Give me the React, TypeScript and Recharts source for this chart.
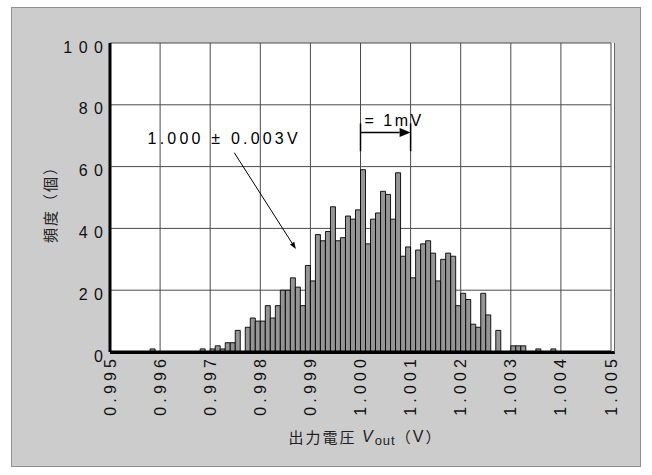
import React from "react";
import {
  BarChart,
  Bar,
  XAxis,
  YAxis,
  CartesianGrid,
  ReferenceLine,
  ReferenceDot,
} from "recharts";

// histogram of output voltage, 0.1 mV bins from 0.995 V to 1.005 V
const BIN_START = 0.995;
const BIN_STEP = 0.0001;
const counts = [
  0, 0, 0, 0, 0, 0, 0, 0, 1, 0, // 0.9950
  0, 0, 0, 0, 0, 0, 0, 0, 1, 0, // 0.9960
  1, 2, 1, 3, 3, 7, 0, 8, 11, 10, // 0.9970
  10, 15, 11, 15, 20, 20, 24, 21, 15, 28, // 0.9980
  23, 38, 36, 39, 47, 36, 37, 44, 43, 46, // 0.9990
  59, 35, 43, 45, 52, 51, 43, 58, 31, 34, // 1.0000
  24, 33, 35, 36, 32, 23, 30, 32, 31, 15, // 1.0010
  19, 17, 9, 8, 19, 12, 0, 7, 0, 0, // 1.0020
  2, 2, 2, 0, 0, 1, 0, 0, 1, 0, // 1.0030
  0, 0, 0, 0, 0, 0, 0, 0, 0, 0, // 1.0040
];
const xTicks = [0.995, 0.996, 0.997, 0.998, 0.999, 1.0, 1.001, 1.002, 1.003, 1.004, 1.005];
const yTicks = [0, 20, 40, 60, 80, 100];

// annotations (data coordinates)
const spreadText = "1.000 ± 0.003V";
const spreadTextAt = { x: 0.99728, y: 69 };
const spreadArrow = [
  { x: 0.99748, y: 64.5 },
  { x: 0.99871, y: 33.3 },
];
const scaleText = "= 1mV";
const scaleTextAt = { x: 1.00008, y: 75 };
const scaleFrom = 1.0;
const scaleTo = 1.001;
const scaleY = 71;

const data = counts.map((count, i) => ({
  v: BIN_START + (i + 0.5) * BIN_STEP,
  count,
}));

const FONT = "'Liberation Sans', Arial, sans-serif";
const CJK = "'Noto Sans CJK JP', 'Noto Sans', sans-serif";

const arrowShape = (head: number, half: number, width: number) => (p: any) => {
  const { x1, y1, x2, y2 } = p;
  const a = Math.atan2(y2 - y1, x2 - x1);
  const bx = x2 - head * Math.cos(a);
  const by = y2 - head * Math.sin(a);
  const nx = -Math.sin(a) * half;
  const ny = Math.cos(a) * half;
  return (
    <g>
      <line x1={x1} y1={y1} x2={bx} y2={by} stroke="#000" strokeWidth={width} />
      <polygon
        points={`${x2},${y2} ${bx + nx},${by + ny} ${bx - nx},${by - ny}`}
        fill="#000"
      />
    </g>
  );
};

function XTick({ x, y, payload }: any) {
  const ls = 4.2;
  return (
    <g transform={`translate(${x},${y}) rotate(-90)`}>
      <text
        x={ls}
        y={0}
        textAnchor="end"
        dominantBaseline="central"
        fontFamily={FONT}
        fontSize={16}
        letterSpacing={ls}
        fill="#111"
      >
        {Number(payload.value).toFixed(3)}
      </text>
    </g>
  );
}

function YTick({ x, y, payload }: any) {
  const ls = 6.5;
  return (
    <text
      x={x + ls}
      y={y + 4}
      textAnchor="end"
      dominantBaseline="central"
      fontFamily={FONT}
      fontSize={16}
      letterSpacing={ls}
      fill="#111"
    >
      {payload.value}
    </text>
  );
}

function YTitle({ viewBox }: any) {
  const cx = viewBox.x + 9;
  const cy = viewBox.y + viewBox.height / 2 + 3;
  return (
    <text
      transform={`translate(${cx},${cy}) rotate(-90)`}
      textAnchor="middle"
      dominantBaseline="central"
      fontFamily={CJK}
      fontSize={15}
      letterSpacing={2}
      fill="#222"
    >
      頻度（個）
    </text>
  );
}

function XTitle({ viewBox }: any) {
  const cx = viewBox.x + viewBox.width / 2 + 5;
  const cy = viewBox.y + 84;
  return (
    <text
      x={cx}
      y={cy}
      textAnchor="middle"
      dominantBaseline="central"
      fontFamily={CJK}
      fontSize={15}
      letterSpacing={2}
      fill="#222"
    >
      出力電圧{" "}
      <tspan fontFamily={FONT} fontStyle="italic" fontSize={16}>
        V
      </tspan>
      <tspan fontFamily={FONT} fontSize={13} dy={4} letterSpacing={1}>
        out
      </tspan>
      <tspan dy={-4}>（</tspan>
      <tspan fontFamily={FONT} fontSize={16}>
        V
      </tspan>
      <tspan>）</tspan>
    </text>
  );
}

export default function App() {
  return (
    <div
      style={{
        position: "absolute",
        left: 0,
        top: 0,
        width: 652,
        height: 475,
        background: "#fff",
      }}
    >
      <div
        style={{
          position: "absolute",
          left: 11,
          top: 7,
          width: 630,
          height: 460,
          boxSizing: "border-box",
          background: "#cccccc",
          border: "1px solid #909090",
        }}
      />
      <div
        style={{
          position: "absolute",
          left: 110,
          top: 43,
          width: 505,
          height: 310.5,
          boxSizing: "border-box",
          background: "#fff",
          borderRight: "1px solid #666",
          borderBottom: "3px solid #000",
        }}
      />
      <div style={{ position: "absolute", left: 0, top: 0 }}>
        <BarChart
          width={652}
          height={475}
          data={data}
          margin={{ top: 43, right: 41, bottom: 53, left: 40 }}
          barCategoryGap={0}
          barGap={0}
        >
          <CartesianGrid stroke="#4a4a4a" strokeWidth={1} />
          <XAxis
            dataKey="v"
            type="number"
            domain={[0.995, 1.005]}
            allowDataOverflow
            ticks={xTicks}
            interval={0}
            height={70}
            tickSize={0}
            tickMargin={7}
            tickLine={false}
            axisLine={{ stroke: "#000", strokeWidth: 3 }}
            tick={<XTick />}
            label={(p: any) => <XTitle {...p} />}
          />
          <YAxis
            domain={[0, 100]}
            ticks={yTicks}
            interval={0}
            width={70}
            tickSize={0}
            tickMargin={7}
            tickLine={false}
            axisLine={{ stroke: "#000", strokeWidth: 3 }}
            tick={<YTick />}
            label={(p: any) => <YTitle {...p} />}
          />
          <Bar
            dataKey="count"
            fill="#959595"
            stroke="#000"
            strokeWidth={0.9}
            isAnimationActive={false}
          />
          <ReferenceLine
            segment={spreadArrow}
            shape={arrowShape(7, 2.5, 1)}
          />
          <ReferenceLine
            segment={[
              { x: scaleFrom, y: scaleY },
              { x: scaleTo, y: scaleY },
            ]}
            shape={arrowShape(11, 4.5, 1.5)}
          />
          <ReferenceLine
            segment={[
              { x: scaleFrom, y: scaleY - 6 },
              { x: scaleFrom, y: scaleY + 3 },
            ]}
            stroke="#000"
            strokeWidth={1.5}
          />
          <ReferenceLine
            segment={[
              { x: scaleTo, y: scaleY - 6 },
              { x: scaleTo, y: scaleY + 3 },
            ]}
            stroke="#000"
            strokeWidth={1.5}
          />
          <ReferenceDot
            x={spreadTextAt.x}
            y={spreadTextAt.y}
            r={0}
            shape={(p: any) => (
              <text
                x={p.cx}
                y={p.cy}
                textAnchor="middle"
                dominantBaseline="central"
                fontFamily={FONT}
                fontSize={16}
                letterSpacing={3.2}
                fill="#000"
              >
                {spreadText}
              </text>
            )}
          />
          <ReferenceDot
            x={scaleTextAt.x}
            y={scaleTextAt.y}
            r={0}
            shape={(p: any) => (
              <text
                x={p.cx}
                y={p.cy}
                textAnchor="start"
                dominantBaseline="central"
                fontFamily={FONT}
                fontSize={16}
                letterSpacing={2.5}
                fill="#000"
              >
                {scaleText}
              </text>
            )}
          />
        </BarChart>
      </div>
    </div>
  );
}
